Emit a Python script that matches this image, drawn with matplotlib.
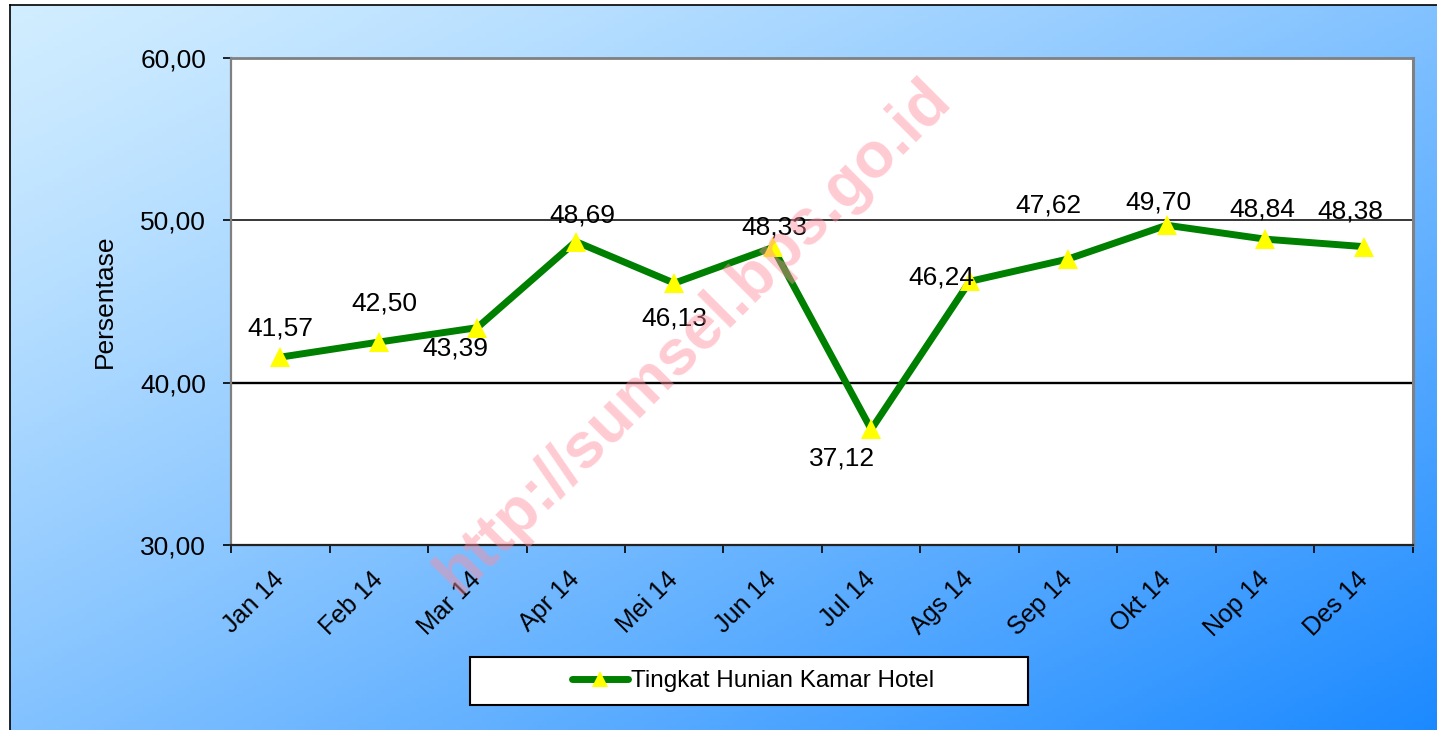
import numpy as np
import matplotlib.pyplot as plt
from matplotlib.patches import Rectangle
from matplotlib.lines import Line2D

plt.rcParams['font.family'] = ['Liberation Sans', 'DejaVu Sans']

# data
months = ['Jan 14', 'Feb 14', 'Mar 14', 'Apr 14', 'Mei 14', 'Jun 14',
          'Jul 14', 'Ags 14', 'Sep 14', 'Okt 14', 'Nop 14', 'Des 14']
occupancy = [41.57, 42.50, 43.39, 48.69, 46.13, 48.33,
             37.12, 46.24, 47.62, 49.70, 48.84, 48.38]
y_ticks = [30, 40, 50, 60]
series_name = 'Tingkat Hunian Kamar Hotel'

# where each value label sits relative to its marker (pixels)
label_offsets = [(0, 29), (6, 39), (-22, -21), (7, 26), (0, -35), (2, 20),
                 (-29, -29), (-28, 4), (-20, 53), (-8, 23), (-3, 30), (-13, 35)]


def comma(v):
    return f'{v:.2f}'.replace('.', ',')


W, H = 1437, 730
fig = plt.figure(figsize=(W / 100, H / 100), dpi=100)
fig.patch.set_facecolor('white')

# gradient background (light cyan top-left -> blue bottom-right)
bg = fig.add_axes([10 / W, 0, 1 - 10 / W, 1 - 5 / H], zorder=-5)
gx, gy = np.meshgrid(np.linspace(0, 1, 300), np.linspace(0, 1, 160))
t = ((gx + gy) / 2) ** 1.2
c0 = np.array([0.82, 0.93, 1.0])
c1 = np.array([0.11, 0.54, 1.0])
img = c0[None, None, :] * (1 - t[..., None]) + c1[None, None, :] * t[..., None]
bg.imshow(img, aspect='auto', extent=[0, 1, 0, 1], origin='upper')
bg.set_axis_off()
fig.add_artist(Line2D([10 / W, 10 / W], [0, 1 - 5 / H], color='black', lw=1.2))
fig.add_artist(Line2D([10 / W, 1], [1 - 5 / H, 1 - 5 / H], color='black', lw=1.2))

ax = fig.add_axes([231 / W, 1 - 545 / H, 1182 / W, 487 / H])
ax.set_facecolor('white')
x = np.arange(len(months))

ax.axhline(40, color='black', lw=1.7, zorder=1)
ax.axhline(50, color='black', lw=1.1, zorder=1)

ax.plot(x, occupancy, color='#008000', lw=5, marker='^', markersize=15,
        markerfacecolor='#ffff00', markeredgecolor='#ffff00', markeredgewidth=0,
        solid_capstyle='round', solid_joinstyle='round', zorder=3,
        label=series_name)

for xi, v, (dx, dy) in zip(x, occupancy, label_offsets):
    ax.annotate(comma(v), (xi, v), xytext=(dx, dy), textcoords='offset pixels',
                ha='center', va='center', fontsize=19, color='black', zorder=4)

ax.set_xlim(-0.5, len(months) - 0.5)
ax.set_ylim(30, 60)
ax.set_yticks(y_ticks)
ax.set_yticklabels([comma(v) for v in y_ticks], fontsize=19)
ax.tick_params(axis='y', direction='out', length=6, width=1.2, pad=12)

ax.set_xticks(np.arange(-0.5, len(months)), labels=[''] * (len(months) + 1))
ax.tick_params(axis='x', which='major', direction='out', length=6, width=1.2)
ax.set_xticks(x, minor=True)
ax.set_xticklabels(months, minor=True, fontsize=18, rotation=45,
                   ha='right', va='center', rotation_mode='anchor')
ax.tick_params(axis='x', which='minor', length=0, pad=22)

ax.set_ylabel('Persentase', fontsize=19)
ax.yaxis.set_label_coords(-0.0965, 0.5)

for side in ['left', 'top', 'right']:
    ax.spines[side].set_color('#808080')
ax.spines['left'].set_linewidth(1.6)
ax.spines['top'].set_linewidth(2)
ax.spines['right'].set_linewidth(2.2)
ax.spines['bottom'].set_color('#222222')
ax.spines['bottom'].set_linewidth(1.6)

# legend box
fig.add_artist(Rectangle((470 / W, 1 - 705 / H), 558 / W, 48 / H,
                         transform=fig.transFigure, facecolor='white',
                         edgecolor='black', lw=1.5, zorder=2))
handles, labels = ax.get_legend_handles_labels()
leg = fig.legend(handles, labels, loc='center', bbox_to_anchor=(753 / W, 1 - 681 / H),
                 frameon=False, fontsize=17.5, handlelength=2.3, handletextpad=0.15,
                 markerscale=0.75)
leg.set_zorder(3)

# watermark
fig.text(694 / W, 1 - 337 / H, 'http://sumsel.bps.go.id', fontsize=46,
         fontweight='bold', color='#ff8c9e', alpha=0.45, rotation=45,
         ha='center', va='center', zorder=10)

fig.savefig('out.png', dpi=100)
